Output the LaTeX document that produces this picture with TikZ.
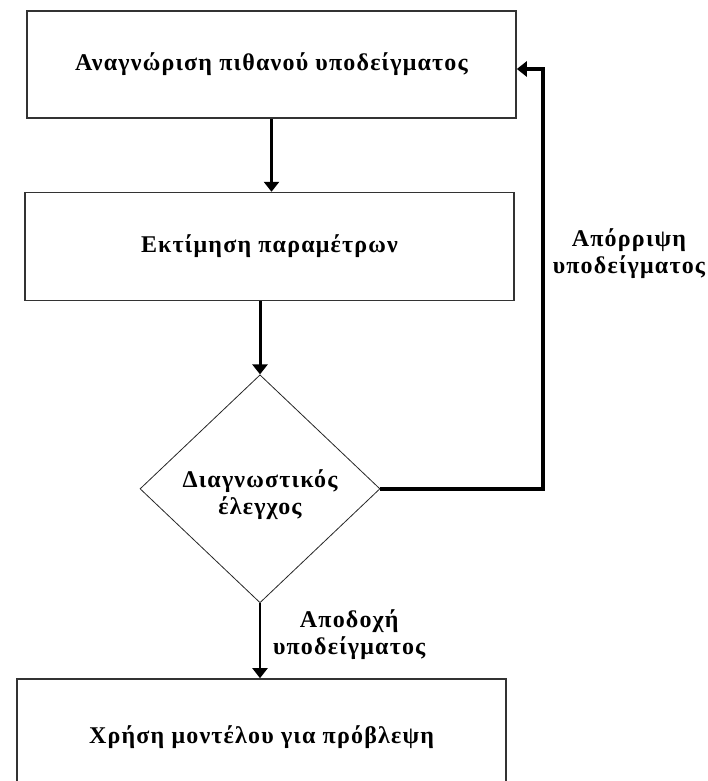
\documentclass[tikz,border=0pt]{standalone}
\usepackage{fontspec}
\setmainfont{Liberation Serif}[LetterSpace=5]
\usetikzlibrary{shapes.geometric, arrows.meta, positioning}
\newcommand{\gtxt}{\bfseries\fontsize{24}{27}\selectfont}

\begin{document}
\begin{tikzpicture}[
    x=1pt, y=1pt,
    % --- node styles ---
    proc/.style={rectangle, draw=black!80, line width=1.6pt,
        minimum width=489pt, minimum height=107pt, text centered,
        font=\gtxt, inner sep=0pt},
    dec/.style={diamond, draw=black!85, line width=0.8pt,
        minimum width=240pt, minimum height=228pt, inner sep=0pt,
        align=center, font=\gtxt},
    % --- arrow / label styles ---
    arr/.style={-{Triangle[length=10pt, width=15pt]}, line width=3pt},
    lbl/.style={font=\gtxt, align=center, inner sep=0pt},
    node distance=73pt
]
\useasboundingbox (0,0) rectangle (707,-781);
\clip (0,0) rectangle (707,-781);

%%% ================= ROW 0: ANAGNORISI =================
\node (anag) [proc] at (271.5,-64.5) {Αναγνώριση πιθανού υποδείγματος};

%%% ================= ROW 1: EKTIMISI =================
\node (ektim) [proc, minimum height=108pt, below=of anag, xshift=-2pt]
    {Εκτίμηση παραμέτρων};

%%% ================= ROW 2: ELEGXOS =================
\node (elegx) [dec, below=of ektim, xshift=-9.5pt, text height=56pt]
    {Διαγνωστικός\\έλεγχος};

%%% ================= ROW 3: PROVLEPSI =================
\node (provl) [proc, minimum height=116pt, below=75pt of elegx, xshift=1.5pt]
    {Χρήση μοντέλου για πρόβλεψη};

\coordinate (fb) at (543,0);

%%% ================= SETAS =================
\draw [arr] (anag) -- (anag |- ektim.north);
\draw [arr] (ektim.south -| elegx.north) -- (elegx.north);
\draw [arr, line width=2pt] (elegx.south) -- node[lbl, right=12pt, yshift=6pt]
    {Αποδοχή\\υποδείγματος} (elegx.south |- provl.north);

%% Epistrofi
\draw [arr, line width=3.5pt] (elegx.east) -- (elegx.east -| fb)
    |- node[lbl, right=8pt, pos=0.28] {Απόρριψη\\υποδείγματος}
    ([yshift=-4.5pt]anag.east);

\end{tikzpicture}
\end{document}
